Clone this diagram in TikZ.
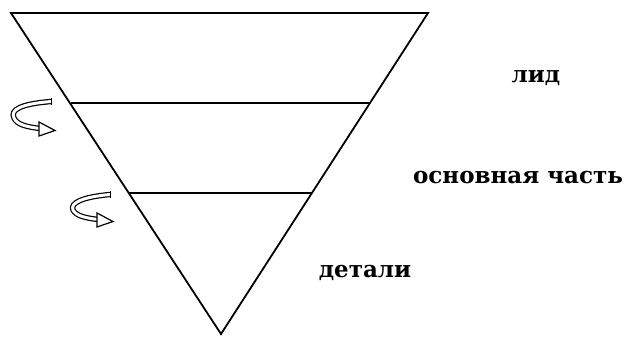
\documentclass[tikz,border=0pt]{standalone}
\usepackage{fontspec}
\setmainfont{DejaVu Serif}
\begin{document}
\begin{tikzpicture}[x=1pt,y=-1pt,
  edge/.style={line width=1.8pt,line join=miter},
  divider/.style={line width=1.2pt},
  label/.style={font=\fontsize{23}{25}\selectfont\bfseries,inner sep=0pt},
  turn/.style={line width=1.2pt,double=white,double distance=3pt},
  turnhead/.style={line width=1.2pt,fill=white,line join=miter}]
\useasboundingbox (0,0) rectangle (630,338);
% triangle
\coordinate (tl) at (11,13);
\coordinate (tr) at (428,13);
\coordinate (ap) at (221,334);
\draw[edge] (tl) -- (tr) -- (ap) -- cycle;
% dividers
\coordinate (l1) at (71,103);
\coordinate (r1) at (369,103);
\coordinate (l2) at (129,193);
\coordinate (r2) at (312,193);
\draw[divider] (l1) -- (r1);
\draw[divider] (l2) -- (r2);
% labels
\node[label] (lid) at (536,78) {лид};
\node[label] (main) at (518,178) {основная часть};
\node[label] (det) at (365,273) {детали};
% turning arrows
\draw[turn] (51,101.5) .. controls (20,104) and (10,110) .. (14,118) .. controls (17,125) and (28,127) .. (40,128.5);
\draw[line width=1.2pt] (51.4,98) -- (51.4,105);
\draw[turnhead] (39,122) -- (55,130.5) -- (39,136) -- cycle;
\draw[turn] (110,194.5) .. controls (82,197) and (70,203) .. (73,210) .. controls (76,216) and (86,218) .. (98,219.5);
\draw[line width=1.2pt] (110.4,191) -- (110.4,198);
\draw[turnhead] (97,213) -- (113,221.5) -- (97,227) -- cycle;
\end{tikzpicture}
\end{document}
